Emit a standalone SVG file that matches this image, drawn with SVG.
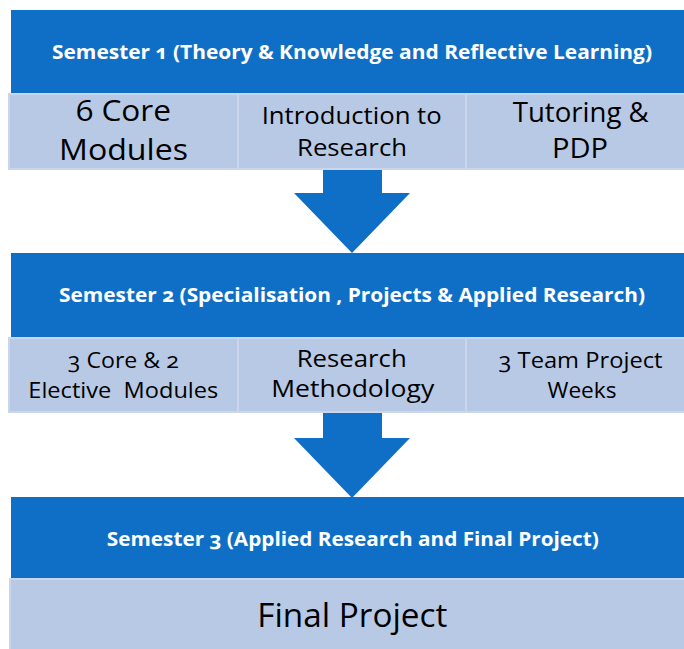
<svg xmlns="http://www.w3.org/2000/svg" width="684" height="649" viewBox="0 0 684 649">
<style>
.hdr{fill:#0F6FC6}
.cell{fill:#B8C9E6;stroke:#CBD5EC;stroke-width:2}
.arrow{fill:#0F6FC6}
text{font-family:"Open Sans","Noto Sans","Liberation Sans",sans-serif;text-anchor:middle;font-variant-numeric:oldstyle-nums}
.ht{fill:#FFFFFF;font-weight:bold;font-size:20px}
.ct{fill:#000000}
</style>
<rect width="684" height="649" fill="#FFFFFF"/>
<g id="semester1">
<rect class="hdr" x="11" y="10" width="690" height="83"/>
<text class="ht" x="352" y="59" textLength="600" lengthAdjust="spacingAndGlyphs">Semester 1 (Theory &amp; Knowledge and Reflective Learning)</text>
</g>
<g id="core-modules">
<rect class="cell" x="9" y="94" width="229" height="75"/>
<text class="ct" x="123.5" y="121" font-size="29" textLength="95" lengthAdjust="spacingAndGlyphs">6 Core</text>
<text class="ct" x="123.5" y="160" font-size="29" textLength="129" lengthAdjust="spacingAndGlyphs">Modules</text>
</g>
<g id="intro-research">
<rect class="cell" x="238" y="94" width="228" height="75"/>
<text class="ct" x="351.7" y="124" font-size="24" textLength="180" lengthAdjust="spacingAndGlyphs">Introduction to</text>
<text class="ct" x="352" y="155.5" font-size="24" textLength="110" lengthAdjust="spacingAndGlyphs">Research</text>
</g>
<g id="tutoring-pdp">
<rect class="cell" x="466" y="94" width="230" height="75"/>
<text class="ct" x="580.7" y="122" font-size="28" textLength="136" lengthAdjust="spacingAndGlyphs">Tutoring &amp;</text>
<text class="ct" x="580" y="157.5" font-size="28" textLength="56" lengthAdjust="spacingAndGlyphs">PDP</text>
</g>
<g id="semester2">
<rect class="hdr" x="11" y="253" width="690" height="84"/>
<text class="ht" x="352" y="302" textLength="586" lengthAdjust="spacingAndGlyphs">Semester 2 (Specialisation , Projects &amp; Applied Research)</text>
</g>
<g id="core-elective">
<rect class="cell" x="9" y="338" width="229" height="74"/>
<text class="ct" x="123.3" y="367.5" font-size="21" textLength="111" lengthAdjust="spacingAndGlyphs">3 Core &amp; 2</text>
<text class="ct" x="123.3" y="398" font-size="21" textLength="190" lengthAdjust="spacingAndGlyphs" xml:space="preserve">Elective  Modules</text>
</g>
<g id="research-methodology">
<rect class="cell" x="238" y="338" width="228" height="74"/>
<text class="ct" x="351.7" y="367" font-size="23" textLength="110" lengthAdjust="spacingAndGlyphs">Research</text>
<text class="ct" x="352.7" y="397" font-size="23" textLength="163" lengthAdjust="spacingAndGlyphs">Methodology</text>
</g>
<g id="team-project-weeks">
<rect class="cell" x="466" y="338" width="230" height="74"/>
<text class="ct" x="580.5" y="367.5" font-size="21" textLength="164" lengthAdjust="spacingAndGlyphs">3 Team Project</text>
<text class="ct" x="582" y="398" font-size="21" textLength="69" lengthAdjust="spacingAndGlyphs">Weeks</text>
</g>
<g id="semester3">
<rect class="hdr" x="11" y="497" width="690" height="81"/>
<text class="ht" x="352.8" y="546" textLength="492" lengthAdjust="spacingAndGlyphs">Semester 3 (Applied Research and Final Project)</text>
</g>
<g id="final-project">
<rect class="cell" x="10" y="579" width="686" height="80"/>
<text class="ct" x="352.3" y="627" font-size="32" textLength="190" lengthAdjust="spacingAndGlyphs">Final Project</text>
</g>
<g id="connectors">
<polygon class="arrow" points="323,170 382,170 382,193 410,193 352,253 294,193 323,193"/>
<polygon class="arrow" points="323,413 382,413 382,438 410,438 352,498 294,438 323,438"/>
</g>
</svg>
